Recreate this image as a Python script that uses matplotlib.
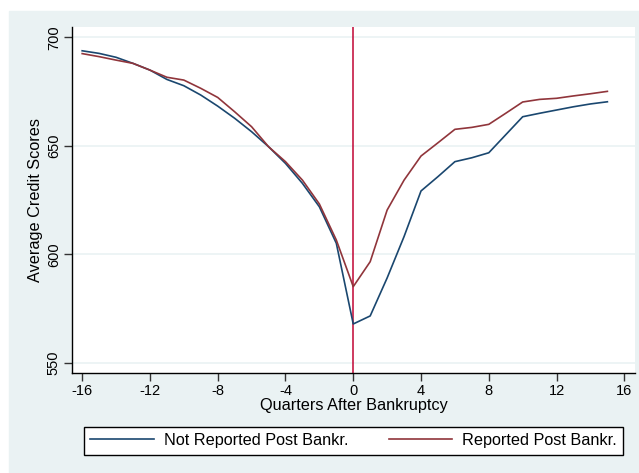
import numpy as np
import matplotlib.pyplot as plt
from matplotlib.patches import Rectangle

plt.rcParams['font.family'] = ['Liberation Sans', 'DejaVu Sans']

# quarters relative to bankruptcy filing
quarters = list(range(-16, 16))

# average credit scores
not_reported = [693.8, 692.6, 690.8, 688.0, 684.9, 680.6, 677.7, 673.4,
                668.3, 662.7, 656.5, 649.6, 641.9, 632.7, 621.9, 605.1,
                567.9, 571.6, 589.1, 608.2, 629.2, 635.8, 642.7, 644.5,
                646.8, 655.1, 663.4, 665.0, 666.5, 668.0, 669.3, 670.3]
reported = [692.5, 691.1, 689.5, 688.0, 684.9, 681.6, 680.3, 676.5,
            672.3, 665.7, 658.8, 649.6, 642.7, 634.2, 623.2, 606.6,
            585.1, 596.6, 620.4, 634.2, 645.3, 651.4, 657.6, 658.5,
            659.9, 665.0, 670.2, 671.4, 671.9, 673.0, 674.0, 675.1]

xticks = [-16, -12, -8, -4, 0, 4, 8, 12, 16]
yticks = [550, 600, 650, 700]

W, H = 639, 473
bg = '#EAF2F3'
blue = '#1A476F'
red = '#90353B'

fig = plt.figure(figsize=(W / 100, H / 100), dpi=100, facecolor='white')
fig.patches.append(Rectangle((9 / W, 0), 1 - 9 / W, 1 - 11 / H,
                             transform=fig.transFigure, color=bg, zorder=-5))

ax = fig.add_axes([72 / W, 1 - 373 / H, (635 - 72) / W, (373 - 26.7) / H])
ax.set_facecolor('white')

for y in yticks:
    ax.axhline(y, color=bg, lw=1.2, zorder=1)

ax.plot(quarters, not_reported, color=blue, lw=1.2, label='Not Reported Post Bankr.', zorder=3)
ax.plot(quarters, reported, color=red, lw=1.2, label='Reported Post Bankr.', zorder=3)
ax.axvline(0, color='#C10534', lw=1.1, zorder=2)

ax.set_xlim(-16.6, 16.63)
ax.set_ylim(545.3, 704.9)
ax.set_xticks(xticks)
ax.set_xticklabels([str(t) for t in xticks])
ax.set_yticks(yticks)
ax.set_yticklabels([str(t) for t in yticks], rotation=90, va='center')
ax.tick_params(direction='out', length=6, width=1, color='#333333', labelsize=10.5,
               labelcolor='black', pad=2)

for s in ['top', 'right']:
    ax.spines[s].set_visible(False)
for s in ['left', 'bottom']:
    ax.spines[s].set_linewidth(1)
    ax.spines[s].set_color('black')

ax.set_xlabel('Quarters After Bankruptcy', fontsize=11.7, labelpad=0)
ax.set_ylabel('Average Credit Scores', fontsize=11.7, labelpad=3)

leg = fig.legend(loc='center', bbox_to_anchor=(353.5 / W, 1 - 440.5 / H), ncol=2,
                 fontsize=11.7, frameon=True, fancybox=False, edgecolor='black',
                 framealpha=1, handlelength=3.9, handletextpad=0.6,
                 columnspacing=2.5, borderpad=0.4)
leg.get_frame().set_linewidth(1)

fig.savefig('out.png', dpi=100, facecolor=fig.get_facecolor())
